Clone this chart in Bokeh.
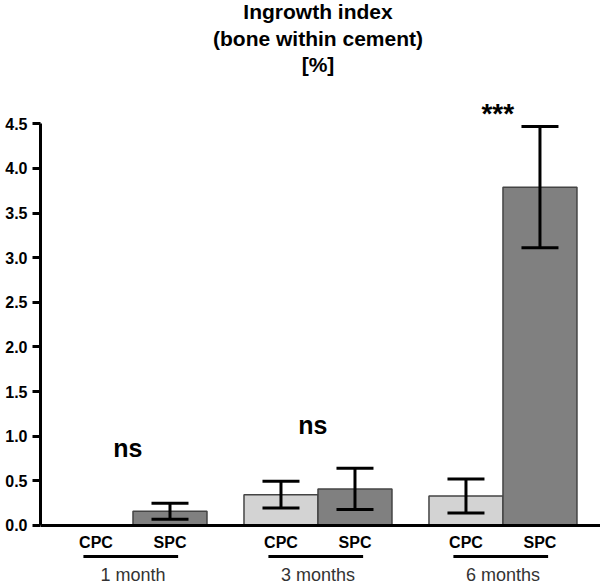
from bokeh.plotting import figure
from bokeh.models import ColumnDataSource, Whisker, Span, FixedTicker, NumeralTickFormatter, Range1d
from bokeh.core.properties import value
from bokeh.embed import file_html
from bokeh.resources import INLINE

# ---- data ----
groups = ["1 month", "3 months", "6 months"]
materials = ["CPC", "SPC"]
cpc_mean = [0.0, 0.345, 0.33]
cpc_err = [0.0, 0.15, 0.19]
spc_mean = [0.16, 0.41, 3.79]
spc_err = [0.09, 0.23, 0.68]
significance = ["ns", "ns", "***"]
y_ticks = [0.0, 0.5, 1.0, 1.5, 2.0, 2.5, 3.0, 3.5, 4.0, 4.5]
title_lines = ["Ingrowth index", "(bone within cement)", "[%]"]

# ---- layout helpers ----
group_centers = [1.25, 3.75, 6.25]
half = 0.5
bar_w = 1.0

FONT = "Liberation Sans"
W, H = 600, 584

p = figure(width=W, height=H, output_backend="svg", toolbar_location=None,
           x_range=Range1d(0, 7.568), y_range=Range1d(-0.661, 5.881),
           x_axis_location=None,
           min_border_left=40, min_border_right=0, min_border_top=0, min_border_bottom=0)
p.outline_line_color = None
p.grid.visible = False
p.background_fill_color = "white"
p.border_fill_color = "white"

ya = p.yaxis[0]
ya.bounds = (0, 4.5)
ya.ticker = FixedTicker(ticks=y_ticks)
ya.formatter = NumeralTickFormatter(format="0.0")
ya.axis_line_width = 3
ya.axis_line_color = "black"
ya.major_tick_line_width = 3
ya.major_tick_out = 8
ya.major_tick_in = 0
ya.minor_tick_line_color = None
ya.major_label_standoff = 5
ya.major_label_text_font = FONT
ya.major_label_text_font_style = "bold"
ya.major_label_text_font_size = "16px"
ya.major_label_text_color = "black"

# bars
cpc_x = [c - half for c in group_centers]
spc_x = [c + half for c in group_centers]

def bars(xs, means, errs, color):
    keep = [i for i, m in enumerate(means) if m > 0]
    src = ColumnDataSource(dict(
        x=[xs[i] for i in keep], top=[means[i] for i in keep],
        upper=[means[i] + errs[i] for i in keep], lower=[means[i] - errs[i] for i in keep]))
    p.vbar(x="x", top="top", bottom=0, width=bar_w, source=src, fill_color=color,
           line_color="#444444", line_width=1.5)
    w = Whisker(base="x", upper="upper", lower="lower", source=src, dimension="height",
                line_color="black", line_width=3, level="overlay")
    for head in (w.upper_head, w.lower_head):
        head.size = 37
        head.line_width = 3
        head.line_color = "black"
    p.add_layout(w)

bars(cpc_x, cpc_mean, cpc_err, "#d3d3d3")
bars(spc_x, spc_mean, spc_err, "#808080")

# x axis line at 0
p.add_layout(Span(location=0, dimension="width", line_color="black", line_width=3))

# significance labels
sig_x = [c - 0.07 for c in group_centers]
sig_y = [0.865, 1.128, 4.615]
sig_size = ["25px", "25px", "28px"]
p.text(x=sig_x, y=sig_y, text=significance, text_font=value(FONT), text_font_style="bold",
       text_font_size=sig_size, text_align="center", text_baseline="middle",
       text_color="black")

# category labels below axis
cat_x = cpc_x + spc_x
cat_t = [materials[0]] * 3 + [materials[1]] * 3
p.text(x=cat_x, y=[-0.196] * 6, text=cat_t, text_font=value(FONT), text_font_style="bold",
       text_font_size="16px", text_align="center", text_baseline="middle",
       text_color="black")

# underline per group
p.segment(x0=[c - 0.67 for c in group_centers], x1=[c + 0.61 for c in group_centers],
          y0=[-0.347] * 3, y1=[-0.347] * 3, line_color="black", line_width=3)

# group labels
p.text(x=group_centers, y=[-0.554] * 3, text=groups, text_font=value(FONT),
       text_font_size="18px", text_align="center", text_baseline="middle",
       text_color="#333333")

# title
p.text(x=[group_centers[1]] * 3, y=[5.761, 5.455, 5.164], text=title_lines, text_font=value(FONT),
       text_font_style="bold", text_font_size="21px", text_align="center",
       text_baseline="middle", text_color="black")

open("out.html", "w").write(file_html(p, INLINE))
